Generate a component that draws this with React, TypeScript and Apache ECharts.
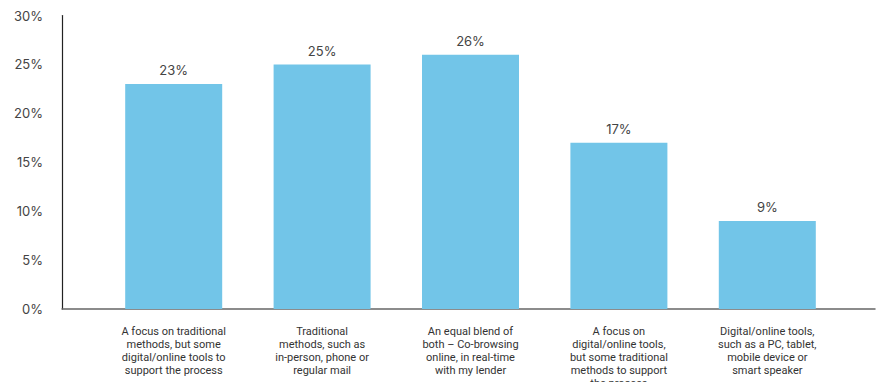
import React, { useEffect, useRef } from "react";
import * as echarts from "echarts";

const categories = [
  "A focus on traditional\nmethods, but some\ndigital/online tools to\nsupport the process",
  "Traditional\nmethods, such as\nin-person, phone or\nregular mail",
  "An equal blend of\nboth – Co-browsing\nonline, in real-time\nwith my lender",
  "A focus on\ndigital/online tools,\nbut some traditional\nmethods to support\nthe process",
  "Digital/online tools,\nsuch as a PC, tablet,\nmobile device or\nsmart speaker",
];
const values = [23, 25, 26, 17, 9];
const yTicks = [0, 5, 10, 15, 20, 25, 30];

const FONT = "Inter, 'Open Sans', sans-serif";

export default function App() {
  const ref = useRef<HTMLDivElement>(null);
  useEffect(() => {
    if (!ref.current) return;
    const chart = echarts.init(ref.current, undefined, { renderer: "svg" });
    const top = 15.5;
    const bottom = 73;
    chart.setOption({
      animation: false,
      grid: [
        { left: 62, right: 7, top, bottom, outerBoundsMode: "none", containLabel: false },
        { left: 99.5, right: 40.5, top, bottom, outerBoundsMode: "none", containLabel: false },
      ],
      xAxis: [
        {
          gridIndex: 0,
          type: "value",
          min: 0,
          max: 1,
          axisLine: { show: true, onZero: false, lineStyle: { color: "#666", width: 1.5 } },
          axisTick: { show: false },
          axisLabel: { show: false },
          splitLine: { show: false },
        },
        {
          gridIndex: 1,
          type: "category",
          data: categories,
          axisLine: { show: false },
          axisTick: { show: false },
          axisLabel: {
            interval: 0,
            margin: 16,
            color: "#333",
            fontFamily: "Roboto, sans-serif",
            fontSize: 11,
            lineHeight: 13,
            align: "center",
          },
        },
      ],
      yAxis: [
        {
          gridIndex: 0,
          type: "value",
          min: yTicks[0],
          max: yTicks[yTicks.length - 1],
          interval: 5,
          axisLine: { show: true, lineStyle: { color: "#222", width: 1.2 } },
          axisTick: { show: false },
          splitLine: { show: false },
          axisLabel: {
            margin: 19,
            color: "#444",
            fontFamily: FONT,
            fontSize: 13,
            formatter: (v: number) => `${v}%`,
          },
        },
        {
          gridIndex: 1,
          type: "value",
          min: yTicks[0],
          max: yTicks[yTicks.length - 1],
          show: false,
          splitLine: { show: false },
        },
      ],
      series: [
        {
          type: "bar",
          xAxisIndex: 1,
          yAxisIndex: 1,
          data: values,
          barWidth: 97,
          itemStyle: { color: "#72C5E8" },
          label: {
            show: true,
            position: "top",
            distance: 7,
            color: "#444",
            fontFamily: FONT,
            fontSize: 13,
            formatter: (p: any) => `${p.value}%`,
          },
          z: 1,
        },
      ],
    });
    return () => chart.dispose();
  }, []);
  return <div ref={ref} style={{ width: 882, height: 382, position: "absolute", left: 0, top: 0, background: "#fff" }} />;
}
